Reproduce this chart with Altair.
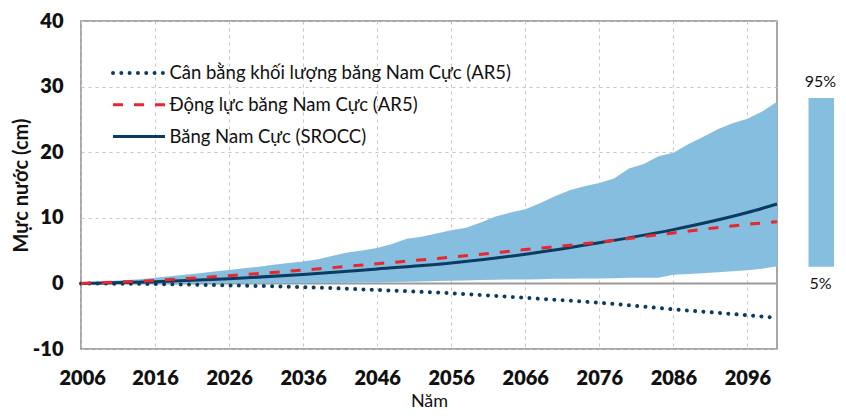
import altair as alt
import pandas as pd

FONT = "Lato"
NAVY = "#0b3b60"
RED = "#e8262e"
BAND = "#86bee0"

# ---- data ----
line_years = [2006, 2016, 2026, 2036, 2046, 2056, 2066, 2076, 2086, 2096, 2100]
mass_balance_ar5 = [0, -0.1, -0.3, -0.56, -1.0, -1.5, -2.2, -2.95, -3.95, -4.85, -5.25]
dynamics_ar5 = [0, 0.46, 1.17, 2.03, 3.0, 4.0, 5.15, 6.3, 7.7, 9.0, 9.4]
srocc = [0, 0.25, 0.7, 1.35, 2.2, 3.1, 4.45, 6.2, 8.2, 10.8, 12.1]

band_years = [2006, 2008, 2010, 2012, 2014, 2016, 2018, 2020, 2022, 2024,
              2026, 2028, 2030, 2032, 2034, 2036, 2038, 2040, 2042, 2044,
              2046, 2048, 2050, 2052, 2054, 2056, 2058, 2060, 2062, 2064,
              2066, 2068, 2070, 2072, 2074, 2076, 2078, 2080, 2082, 2084,
              2086, 2088, 2090, 2092, 2094, 2096, 2098, 2100]
band_upper = [0, 0.15, 0.35, 0.5, 0.65, 0.85, 1.1, 1.3, 1.55, 1.8,
              2.05, 2.3, 2.55, 2.85, 3.1, 3.35, 3.7, 4.2, 4.7, 5.0,
              5.4, 6.0, 6.8, 7.1, 7.6, 8.1, 8.5, 9.3, 10.2, 10.8,
              11.3, 12.2, 13.3, 14.2, 14.8, 15.3, 16.0, 17.5, 18.2, 19.4,
              19.9, 21.2, 22.3, 23.5, 24.4, 25.1, 26.2, 27.7]
band_lower = [0, 0, 0, 0, 0, 0, 0, 0, 0.02, 0.02,
              0.03, 0.03, 0.04, 0.04, 0.05, 0.05, 0.06, 0.08, 0.1, 0.12,
              0.15, 0.2, 0.25, 0.3, 0.35, 0.4, 0.45, 0.5, 0.55, 0.58,
              0.6, 0.65, 0.7, 0.72, 0.74, 0.75, 0.8, 0.85, 0.85, 0.85,
              1.3, 1.45, 1.55, 1.7, 1.85, 2.0, 2.25, 2.6]

x_ticks = [2006, 2016, 2026, 2036, 2046, 2056, 2066, 2076, 2086, 2096]
y_ticks = [-10, 0, 10, 20, 30, 40]

legend_labels = ["Cân bằng khối lượng băng Nam Cực (AR5)",
                 "Động lực băng Nam Cực (AR5)",
                 "Băng Nam Cực (SROCC)"]
range_labels = ["95%", "5%"]

# ---- tables ----
lines_df = pd.DataFrame({"year": line_years, "mb": mass_balance_ar5,
                         "dyn": dynamics_ar5, "srocc": srocc})
band_df = pd.DataFrame({"year": band_years, "lo": band_lower, "hi": band_upper})

xscale = alt.Scale(domain=[2006, 2100], nice=False, zero=False)
yscale = alt.Scale(domain=[-10, 40], nice=False)

x_axis = alt.Axis(title="Năm", values=x_ticks, format="d",
                  labelFlush=True, labelFlushOffset=22,
                  labelFontSize=20, labelFontWeight=800,
                  labelPadding=19, titleFontSize=18,
                  titleFontWeight="normal", titlePadding=4)
y_axis = alt.Axis(title="Mực nước (cm)", values=y_ticks,
                  labelExpr="'' + datum.value",
                  labelFontSize=20, labelFontWeight=800,
                  labelPadding=18, titleFontSize=20,
                  titleFontWeight="bold", titlePadding=1)


def xq():
    return alt.X("year:Q", scale=xscale, axis=x_axis)


def yq(field):
    return alt.Y(field, scale=yscale, axis=y_axis)


band = alt.Chart(band_df).mark_area(color=BAND, opacity=1).encode(
    x=xq(), y=yq("lo:Q"), y2="hi:Q")

zero = alt.Chart(pd.DataFrame({"z": [0]})).mark_rule(
    color="#9a9a9a", strokeWidth=2).encode(y=yq("z:Q"))

mb_line = alt.Chart(lines_df).mark_line(
    color=NAVY, strokeWidth=4, strokeDash=[0.01, 8.3], strokeCap="round",
    interpolate="monotone").encode(x=xq(), y=yq("mb:Q"))
srocc_line = alt.Chart(lines_df).mark_line(
    color=NAVY, strokeWidth=3, interpolate="monotone").encode(x=xq(), y=yq("srocc:Q"))
dyn_line = alt.Chart(lines_df).mark_line(
    color=RED, strokeWidth=3, strokeDash=[10, 11],
    interpolate="monotone").encode(x=xq(), y=yq("dyn:Q"))

# ---- in-plot legend ----
row_y = [52.1, 83.8, 115.5]
styles = [dict(color=NAVY, strokeWidth=4, strokeDash=[0.01, 8.3], strokeCap="round"),
          dict(color=RED, strokeWidth=3, strokeDash=[10, 11]),
          dict(color=NAVY, strokeWidth=3)]
leg_layers = []
for lab, ry, st in zip(legend_labels, row_y, styles):
    d = pd.DataFrame({"label": [lab]})
    leg_layers.append(alt.Chart(d).mark_rule(**st).encode(
        x=alt.value(32), x2=alt.value(84), y=alt.value(ry)))
    leg_layers.append(alt.Chart(d).mark_text(
        align="left", baseline="middle", font=FONT, fontSize=18.5, color="#111").encode(
        x=alt.value(88.4), y=alt.value(ry), text="label:N"))

# ---- right range legend ----
rng_rect = alt.Chart(pd.DataFrame({"k": [1]})).mark_rect(color=BAND).encode(
    x=alt.value(727.5), x2=alt.value(753), y=alt.value(77.1), y2=alt.value(245.8))
rng_top = alt.Chart(pd.DataFrame({"t": [range_labels[0]]})).mark_text(
    font=FONT, fontSize=16, color="#111", baseline="middle").encode(
    x=alt.value(739.5), y=alt.value(60.5), text="t:N")
rng_bot = alt.Chart(pd.DataFrame({"t": [range_labels[1]]})).mark_text(
    font=FONT, fontSize=16, color="#111", baseline="middle").encode(
    x=alt.value(739.5), y=alt.value(262.8), text="t:N")

chart = alt.layer(zero, band, mb_line, srocc_line, dyn_line, *leg_layers,
                  rng_rect, rng_top, rng_bot).properties(
    width=696, height=328,
    padding={"left": 3, "top": 3, "right": 0, "bottom": 0},
).configure_view(
    stroke="#8a8a8a", strokeWidth=1.5
).configure_axis(
    domain=False, ticks=False, grid=True, gridColor="#c4c4c4",
    gridDash=[3, 4], gridWidth=1, labelFont=FONT, titleFont=FONT,
    labelColor="#111", titleColor="#111"
)

chart.save("out.html", embed_options={"renderer": "svg", "actions": False})
